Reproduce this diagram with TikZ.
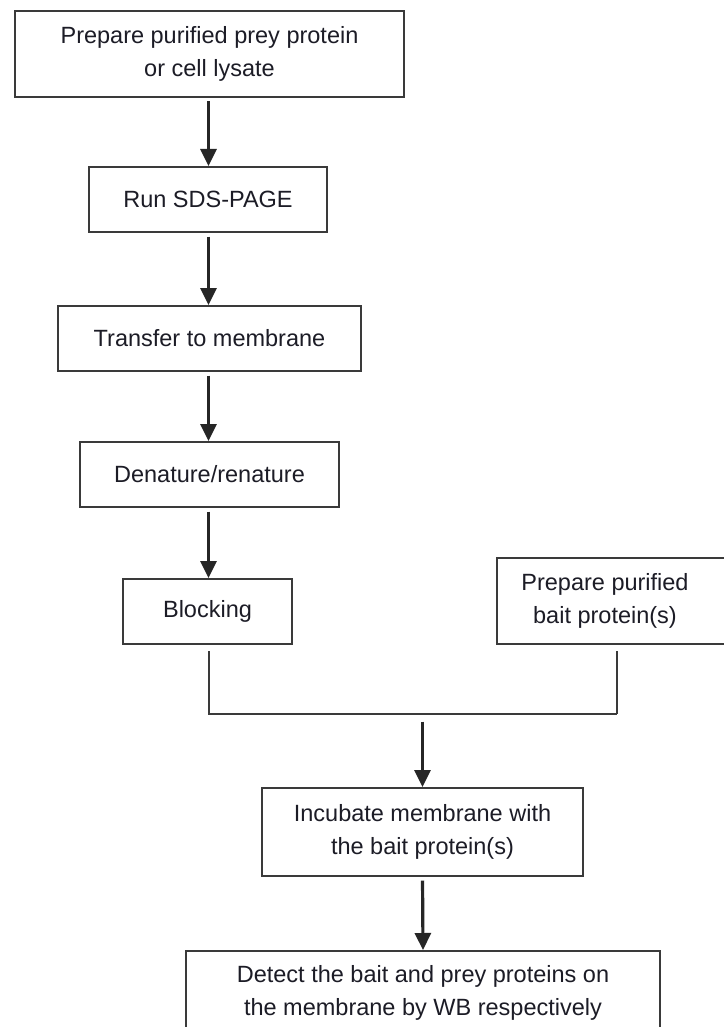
\documentclass[tikz,border=0pt]{standalone}
\usepackage{fontspec}
\setmainfont{Liberation Sans}
\usetikzlibrary{arrows.meta,calc}
\definecolor{edge}{HTML}{3A3A3A}
\definecolor{ink}{HTML}{1C1C26}
\begin{document}
\begin{tikzpicture}[x=1pt,y=-1pt,
  box/.style={draw=edge,line width=2pt,inner sep=0pt,align=center,text=ink,
    font=\fontsize{23.5}{33}\selectfont},
  txt/.style={inner sep=0pt,align=center,text=ink,font=\fontsize{23.5}{33}\selectfont},
  arr/.style={draw=black!85,line width=3.2pt,-{Triangle[length=17pt,width=16pt]},shorten <=3.5pt},
  link/.style={draw=edge,line width=2pt}]
\useasboundingbox (0,0) rectangle (723,1027);
\fill[white] (0,0) rectangle (723,1027);

\coordinate (colx) at (208.5,0);
\coordinate (dropx) at (617,0);

\node[box,minimum width=389pt,minimum height=86pt] (b1) at (209.5,54)
  {Prepare purified prey protein\\or cell lysate};
\node[box,minimum width=238pt,minimum height=65pt] (b2) at (208,199.5) {Run SDS-PAGE};
\node[box,minimum width=303pt,minimum height=65pt] (b3) at (209.5,338.5) {Transfer to membrane};
\node[box,minimum width=259pt,minimum height=65pt] (b4) at (209.5,474.5) {Denature/renature};
\node[box,minimum width=169pt,minimum height=65pt] (b5) at (207.5,611.5) {Blocking};
\node[box,minimum width=273pt,minimum height=86pt] (bait) at (633.5,601) {};
\node[txt] (baittext) at (605,601) {Prepare purified\\bait protein(s)};
\node[box,minimum width=321pt,minimum height=88pt] (b6) at (422.5,832)
  {Incubate membrane with\\the bait protein(s)};
\node[box,minimum width=474pt,minimum height=84pt] (b7) at (423,993)
  {Detect the bait and prey proteins on\\the membrane by WB respectively};

\coordinate (jl) at (b5.south -| colx);
\coordinate (jl2) at (jl |- 0,713.5);
\coordinate (jr) at (bait.south -| dropx);
\coordinate (jr2) at (jr |- 0,713.5);
\coordinate (jm) at (b6.north |- 0,713.5);

\draw[arr] (b1.south -| colx) -- (b2.north -| colx);
\draw[arr] (b2.south -| colx) -- (b3.north -| colx);
\draw[arr] (b3.south -| colx) -- (b4.north -| colx);
\draw[arr] (b4.south -| colx) -- (b5.north -| colx);
\draw[link,shorten <=6pt] (jl) -- (jl2) -- (jr2);
\draw[link,shorten <=6pt] (jr) -- (jr2);
\draw[arr,shorten <=8pt] (jm) -- (b6.north);
\draw[arr] (b6.south) -- (b7.north);
\end{tikzpicture}
\end{document}
